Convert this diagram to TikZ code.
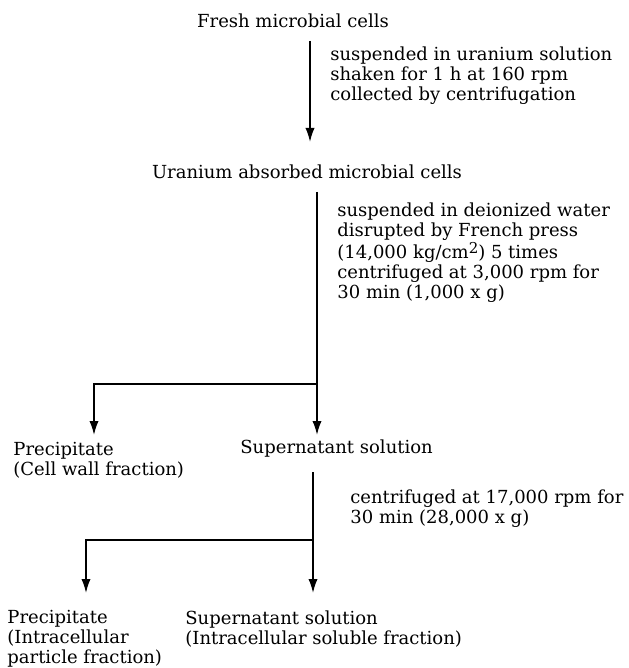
\documentclass[tikz,border=0pt]{standalone}
\usepackage{fontspec}
\setmainfont{DejaVu Serif}
\usetikzlibrary{arrows.meta}

\begin{document}
\begin{tikzpicture}[x=0.5pt,y=-0.5pt,
    txt/.style={inner sep=0pt, font=\fontsize{9}{10}\selectfont, align=left},
    flow/.style={line width=0.8pt, -{Latex[length=7pt,width=4.6pt]}}]
        \useasboundingbox (0,0) rectangle (628,668);
        \node[txt] (fresh) at (293,21) {Fresh microbial cells};
        \node[txt, anchor=north west] (stepA) at (330,46) {suspended in uranium solution\\ shaken for 1 h at 160 rpm\\ collected by centrifugation};
        \node[txt] (uran) at (307,172) {Uranium absorbed microbial cells};
        \node[txt, anchor=north west] (stepB) at (337,202) {suspended in deionized water\\ disrupted by French press\\ (14,000 kg/cm\raisebox{0.6ex}{\fontsize{7.5}{8}\selectfont 2}) 5 times\\ centrifuged at 3,000 rpm for\\ 30 min (1,000 x g)};
        \node[txt, anchor=north west] (precA) at (13,442) {Precipitate\\ (Cell wall fraction)};
        \node[txt, anchor=west] (supA) at (240,449) {Supernatant solution};
        \node[txt, anchor=north west] (stepC) at (350,489) {centrifuged at 17,000 rpm for\\ 30 min (28,000 x g)};
        \node[txt, anchor=north west] (precB) at (7,610) {Precipitate\\ (Intracellular\\ particle fraction)};
        \node[txt, anchor=north west] (supB) at (185,610) {Supernatant solution\\ (Intracellular soluble fraction)};
        % first step
        \coordinate (a1) at (310,41);
        \coordinate (a2) at (310,142);
        \draw[flow] (a1) -- (a2);
        % second step, split
        \coordinate (b1) at (317,192);
        \coordinate (b2) at (317,384);
        \coordinate (b3) at (317,435);
        \coordinate (b4) at (94,435);
        \draw[flow] (b1) -- (b3);
        \draw[flow] (b2) -| (b4);
        % third step, split
        \coordinate (c1) at (313,472);
        \coordinate (c2) at (313,540);
        \coordinate (c3) at (313,593);
        \coordinate (c4) at (86,593);
        \draw[flow] (c1) -- (c3);
        \draw[flow] (c2) -| (c4);
\end{tikzpicture}
\end{document}
